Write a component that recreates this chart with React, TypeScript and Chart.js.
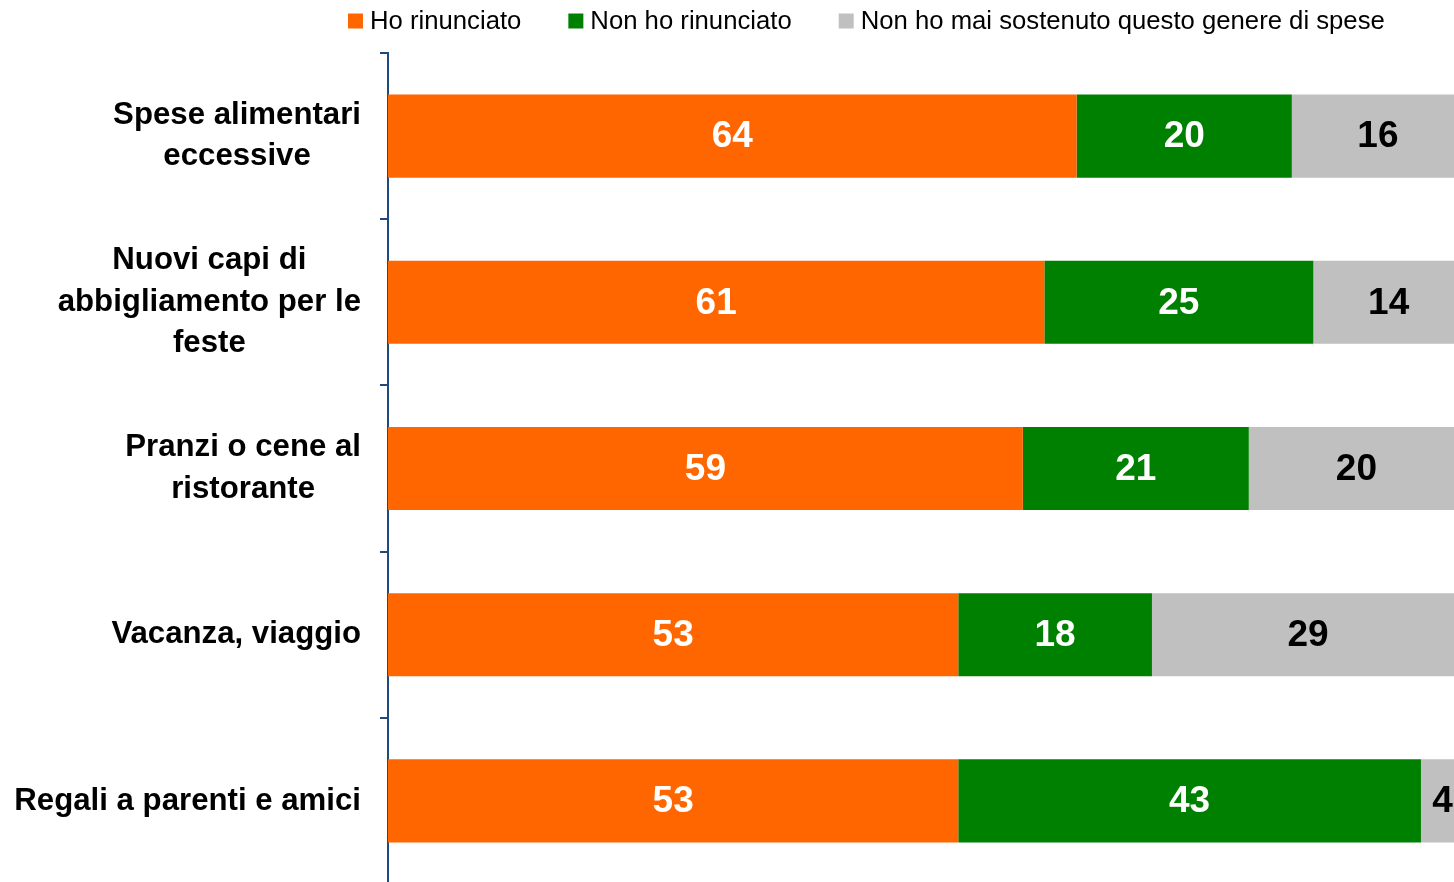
import React, { useEffect, useRef } from "react";
import { Chart, registerables } from "chart.js";

Chart.register(...registerables);

const categories: string[][] = [
  ["Spese alimentari", "eccessive"],
  ["Nuovi capi di", "abbigliamento per le", "feste"],
  ["Pranzi o cene al", "ristorante"],
  ["Vacanza, viaggio"],
  ["Regali a parenti e amici"],
];
const seriesNames = ["Ho rinunciato", "Non ho rinunciato", "Non ho mai sostenuto questo genere di spese"];
const hoRinunciato = [64, 61, 59, 53, 53];
const nonHoRinunciato = [20, 25, 21, 18, 43];
const maiSostenuto = [16, 14, 20, 29, 4];
const seriesColors = ["#FF6600", "#008000", "#C0C0C0"];
const labelColors = ["#FFFFFF", "#FFFFFF", "#000000"];

const FONT = '"Liberation Sans", Arial, sans-serif';
const AXIS_COLOR = "#1F4A7D";

const customDraw = {
  id: "customDraw",
  afterDatasetsDraw(chart: any) {
    const ctx = chart.ctx;
    ctx.save();
    // data labels
    ctx.font = `bold 37px ${FONT}`;
    ctx.textAlign = "center";
    ctx.textBaseline = "middle";
    chart.data.datasets.forEach((ds: any, di: number) => {
      const meta = chart.getDatasetMeta(di);
      meta.data.forEach((el: any, i: number) => {
        const p = el.getProps(["x", "y", "base"], true);
        ctx.fillStyle = labelColors[di];
        ctx.fillText(String(ds.data[i]), (p.x + p.base) / 2, p.y + 1);
      });
    });
    // y labels
    const yScale = chart.scales.y;
    ctx.font = `bold 31.2px ${FONT}`;
    ctx.fillStyle = "#000000";
    const right = yScale.right - 27;
    const lh = 41.5;
    categories.forEach((lines, i) => {
      const cy = yScale.getPixelForValue(i);
      const maxW = Math.max(...lines.map((l) => ctx.measureText(l).width));
      const cx = right - maxW / 2;
      const startY = cy - ((lines.length - 1) * lh) / 2;
      lines.forEach((l, j) => {
        ctx.fillText(l, cx, startY + j * lh);
      });
    });
    // legend
    ctx.font = `25.7px ${FONT}`;
    ctx.textAlign = "left";
    let x = 348;
    const ly = 21;
    seriesNames.forEach((name, i) => {
      ctx.fillStyle = seriesColors[i];
      ctx.fillRect(x, ly - 7.5, 15, 15);
      ctx.fillStyle = "#000000";
      ctx.fillText(name, x + 22, ly + 1);
      x += 22 + ctx.measureText(name).width + 47;
    });
    ctx.restore();
  },
};

export default function App() {
  const ref = useRef<HTMLCanvasElement>(null);
  useEffect(() => {
    if (!ref.current) return;
    const chart = new Chart(ref.current, {
      type: "bar",
      data: {
        labels: categories.map((c) => c.join(" ")),
        datasets: [hoRinunciato, nonHoRinunciato, maiSostenuto].map((d, i) => ({
          label: seriesNames[i],
          data: d,
          backgroundColor: seriesColors[i],
          borderWidth: 0,
          barPercentage: 1,
          categoryPercentage: 0.5,
        })),
      },
      options: {
        indexAxis: "y",
        responsive: false,
        animation: false,
        devicePixelRatio: 1,
        layout: { padding: { top: 53, right: 6, bottom: 6, left: 0 } },
        plugins: { legend: { display: false }, tooltip: { enabled: false } },
        scales: {
          x: { stacked: true, min: 0, max: 100, display: false },
          y: {
            stacked: true,
            offset: true,
            ticks: { display: false },
            grid: {
              offset: true,
              drawOnChartArea: false,
              drawTicks: true,
              tickLength: 8,
              color: AXIS_COLOR,
              lineWidth: 2,
            },
            border: { display: true, color: AXIS_COLOR, width: 2 },
            afterFit: (scale: any) => {
              scale.width = 388;
            },
          },
        },
      } as any,
      plugins: [customDraw],
    });
    return () => chart.destroy();
  }, []);
  return (
    <div style={{ position: "fixed", left: 0, top: 0, width: 1454, height: 882, overflow: "hidden", background: "#fff" }}>
      <canvas ref={ref} width={1470} height={890} style={{ display: "block", width: 1470, height: 890 }} />
    </div>
  );
}
